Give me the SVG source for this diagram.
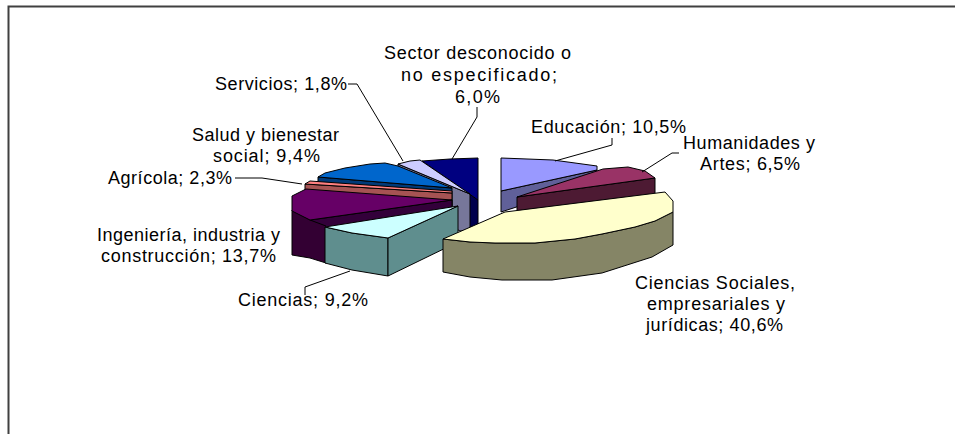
<svg xmlns="http://www.w3.org/2000/svg" width="955" height="434" viewBox="0 0 955 434">
<style>
.lbl{font-family:"Liberation Sans",Arial,sans-serif;font-size:18px;fill:#000}
.f{stroke:#000;stroke-width:1;stroke-linejoin:round}
.ld{fill:none;stroke:#000;stroke-width:1}
</style>
<rect x="0" y="0" width="955" height="434" fill="#fff"/>
<path d="M8.5,434 V6.5 H955" fill="none" stroke="#404040" stroke-width="2"/>

<g id="slice-sector">
<polygon class="f" fill="#00004d" points="422,161 478,200 478,233 422,194"/>
<polygon class="f" fill="#000080" points="422,161 450,159 478,158 478,200"/>
</g>
<g id="slice-servicios">
<polygon class="f" fill="#77779a" points="398,164 470,194 470,231 460,231 398,198"/>
<polygon class="f" fill="#ccccff" points="398,164 410,161 420,160 470,194"/>
</g>
<g id="slice-salud">
<polygon class="f" fill="#003a78" points="318,177 452,188 452,224 318,212"/>
<polygon class="f" fill="#0066cc" points="318,177 325,173 345,168 370,164 385,163 398,166 452,188"/>
</g>
<g id="slice-agricola">
<polygon class="f" fill="#a65353" points="305,184 452,193 452,229 305,220"/>
<polygon class="f" fill="#ff8080" points="305,184 310,181 452,191 452,193"/>
</g>
<g id="slice-ingenieria">
<polygon class="f" fill="#33003a" points="310,220 452,200 452,236 326,256"/>
<polygon class="f" fill="#330033" points="292,210 310,220 326,226 326,263 310,258 292,255"/>
<polygon class="f" fill="#660066" points="292,196 306,189 452,200 310,220 292,211"/>
</g>
<g id="slice-ciencias">
<polygon class="f" fill="#5f8e8e" points="325,227 352,233 388,238 388,276 352,270 325,263"/>
<polygon class="f" fill="#5f8e8e" points="388,238 458,206 458,242 388,276"/>
<polygon class="f" fill="#ccffff" points="325,227 352,233 388,238 458,206"/>
</g>
<g id="slice-educacion">
<polygon class="f" fill="#606099" points="501,191 597,170 597,181 501,212"/>
<polygon class="f" fill="#9999ff" points="501,158 553,160 597,166 597,170 501,191"/>
</g>
<g id="slice-humanidades">
<polygon class="f" fill="#4d1a33" points="517,197 655,178 655,194 517,215"/>
<polygon class="f" fill="#993366" points="517,197 603,169 628,167 645,171 655,178"/>
</g>
<g id="slice-ciencias-sociales">
<polygon class="f" fill="#858566" points="443,239 470,242 495,243 535,243 575,239 602,234 635,227 655,221 673,212 673,245 652,257 602,273 552,280 502,280 470,277 443,272"/>
<polygon class="f" fill="#ffffcc" points="443,239 505,212 665,192 673,201 673,212 655,221 635,227 602,234 575,239 535,243 495,243 470,242"/>
</g>

<g id="connectors">
<polyline class="ld" points="477,107 477,117 452,159"/>
<polyline class="ld" points="348,84 357,84 403,161"/>
<polyline class="ld" points="235,178 262,178 302,184"/>
<polyline class="ld" points="612,138 612,145 555,161"/>
<polyline class="ld" points="679,153 672,153 642,172"/>
<polyline class="ld" points="305,295 305,287 350,271"/>
</g>

<g id="labels">
<text class="lbl" x="384" y="59" textLength="187" lengthAdjust="spacing">Sector desconocido o</text>
<text class="lbl" x="401" y="81" textLength="156" lengthAdjust="spacing">no especificado;</text>
<text class="lbl" x="455" y="103" textLength="45" lengthAdjust="spacing">6,0%</text>
<text class="lbl" x="215" y="90" textLength="132" lengthAdjust="spacing">Servicios; 1,8%</text>
<text class="lbl" x="192" y="141" textLength="147" lengthAdjust="spacing">Salud y bienestar</text>
<text class="lbl" x="213" y="162" textLength="107" lengthAdjust="spacing">social; 9,4%</text>
<text class="lbl" x="108" y="184" textLength="124" lengthAdjust="spacing">Agrícola; 2,3%</text>
<text class="lbl" x="531" y="133" textLength="155" lengthAdjust="spacing">Educación; 10,5%</text>
<text class="lbl" x="683" y="149" textLength="132" lengthAdjust="spacing">Humanidades y</text>
<text class="lbl" x="700" y="170" textLength="100" lengthAdjust="spacing">Artes; 6,5%</text>
<text class="lbl" x="97" y="241" textLength="183" lengthAdjust="spacing">Ingeniería, industria y</text>
<text class="lbl" x="101" y="262" textLength="175" lengthAdjust="spacing">construcción; 13,7%</text>
<text class="lbl" x="238" y="306" textLength="130" lengthAdjust="spacing">Ciencias; 9,2%</text>
<text class="lbl" x="635" y="289" textLength="160" lengthAdjust="spacing">Ciencias Sociales,</text>
<text class="lbl" x="647" y="310" textLength="138" lengthAdjust="spacing">empresariales y</text>
<text class="lbl" x="646" y="331" textLength="137" lengthAdjust="spacing">jurídicas; 40,6%</text>
</g>
</svg>
